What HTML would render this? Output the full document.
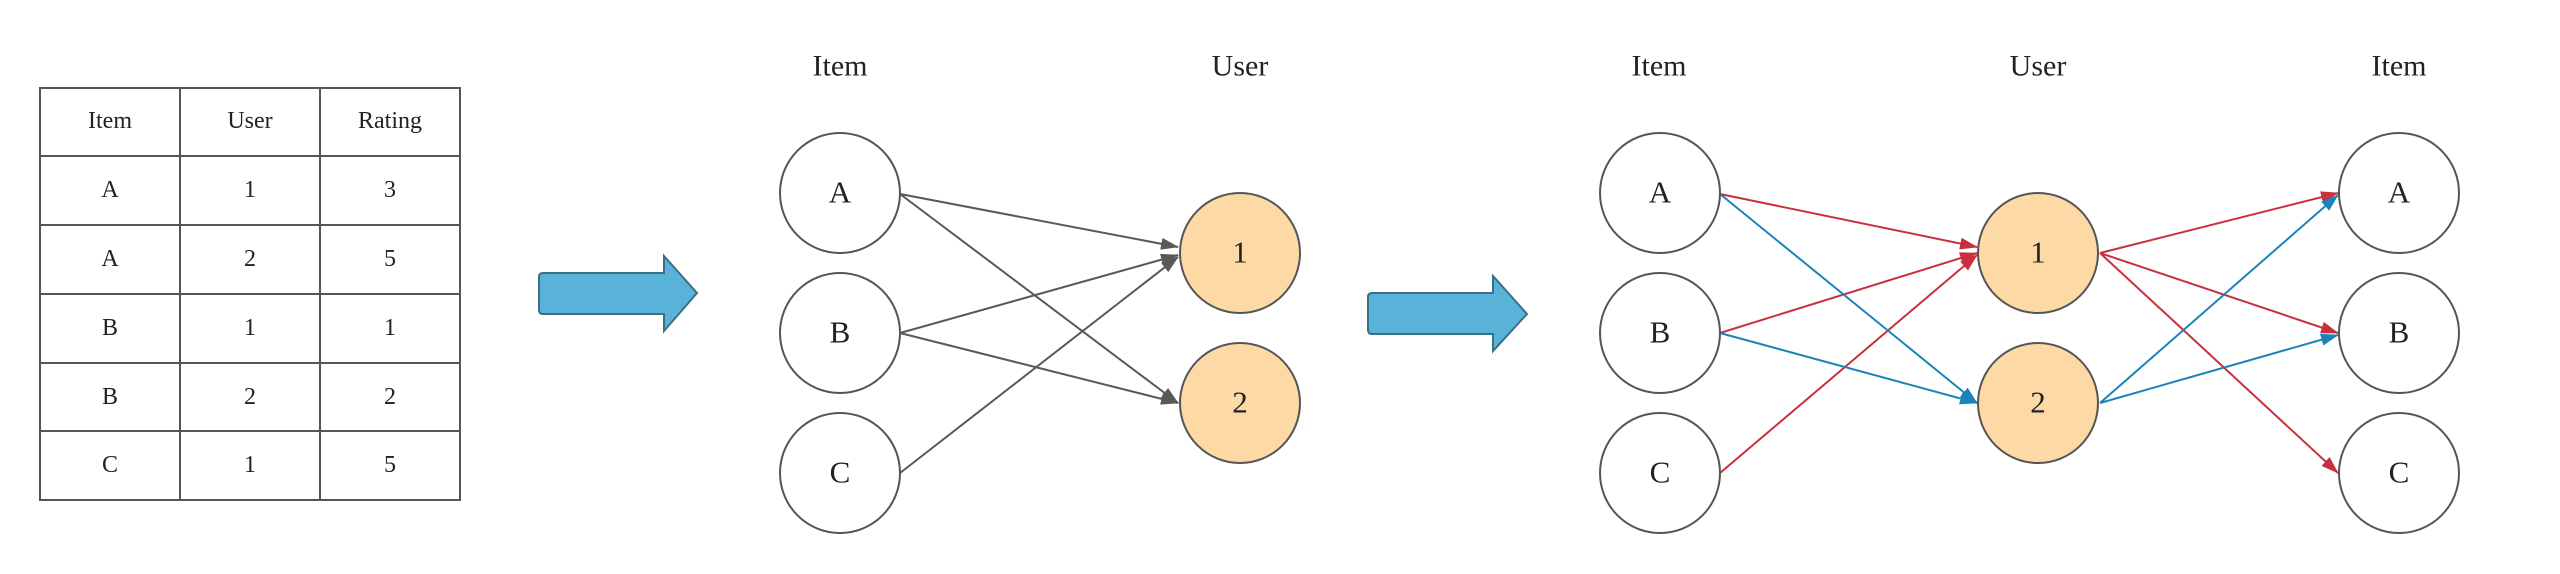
<!DOCTYPE html>
<html><head><meta charset="utf-8"><style>
html,body{margin:0;padding:0;background:#fff;}
svg{display:block;}
text{font-family:"Liberation Serif",serif;fill:#222;text-anchor:middle;dominant-baseline:central;}
</style></head><body>
<svg width="2560" height="574" viewBox="0 0 2560 574" xmlns="http://www.w3.org/2000/svg">
<defs>
<marker id="ag" markerWidth="18" markerHeight="12" refX="17" refY="6" orient="auto" markerUnits="userSpaceOnUse" viewBox="0 0 18 12"><path d="M0,0 L18,6 L0,12 z" fill="#595959"/></marker>
<marker id="ar" markerWidth="18" markerHeight="12" refX="17" refY="6" orient="auto" markerUnits="userSpaceOnUse" viewBox="0 0 18 12"><path d="M0,0 L18,6 L0,12 z" fill="#c9303c"/></marker>
<marker id="ab" markerWidth="18" markerHeight="12" refX="17" refY="6" orient="auto" markerUnits="userSpaceOnUse" viewBox="0 0 18 12"><path d="M0,0 L18,6 L0,12 z" fill="#1b83b9"/></marker>
</defs>
<g stroke="#555" stroke-width="2" fill="none">
<rect x="40" y="88" width="420" height="412"/>
<line x1="180" y1="88" x2="180" y2="500"/><line x1="320" y1="88" x2="320" y2="500"/>
<line x1="40" y1="156" x2="460" y2="156"/><line x1="40" y1="225" x2="460" y2="225"/>
<line x1="40" y1="294" x2="460" y2="294"/><line x1="40" y1="363" x2="460" y2="363"/>
<line x1="40" y1="431" x2="460" y2="431"/>
</g>
<g font-size="24">
<text x="110" y="121">Item</text><text x="250" y="121">User</text><text x="390" y="121">Rating</text>
<text x="110" y="190">A</text><text x="250" y="190">1</text><text x="390" y="190">3</text>
<text x="110" y="259">A</text><text x="250" y="259">2</text><text x="390" y="259">5</text>
<text x="110" y="328">B</text><text x="250" y="328">1</text><text x="390" y="328">1</text>
<text x="110" y="397">B</text><text x="250" y="397">2</text><text x="390" y="397">2</text>
<text x="110" y="465">C</text><text x="250" y="465">1</text><text x="390" y="465">5</text>
</g>
<path d="M543,273 L664,273 L664,256 L697,293 L664,331 L664,314 L543,314 Q539,314 539,310 L539,277 Q539,273 543,273 z" fill="#59b3d8" stroke="#3a6f88" stroke-width="2"/>
<path d="M1372,293 L1493,293 L1493,276 L1527,314 L1493,351 L1493,334 L1372,334 Q1368,334 1368,330 L1368,297 Q1368,293 1372,293 z" fill="#59b3d8" stroke="#3a6f88" stroke-width="2"/>
<g stroke="#595959" stroke-width="2" marker-end="url(#ag)">
<line x1="900" y1="194" x2="1178" y2="247"/>
<line x1="900" y1="194" x2="1178" y2="403"/>
<line x1="900" y1="333" x2="1178" y2="255"/>
<line x1="900" y1="333" x2="1178" y2="403"/>
<line x1="900" y1="473" x2="1178" y2="257"/>
</g>
<g stroke-width="2">
<line x1="1720" y1="194" x2="1977" y2="247" stroke="#c9303c" marker-end="url(#ar)"/>
<line x1="1720" y1="333" x2="1977" y2="253" stroke="#c9303c" marker-end="url(#ar)"/>
<line x1="1720" y1="473" x2="1977" y2="255" stroke="#c9303c" marker-end="url(#ar)"/>
<line x1="1720" y1="194" x2="1977" y2="403" stroke="#1b83b9" marker-end="url(#ab)"/>
<line x1="1720" y1="333" x2="1977" y2="403" stroke="#1b83b9" marker-end="url(#ab)"/>
<line x1="2100" y1="253" x2="2338" y2="193" stroke="#c9303c" marker-end="url(#ar)"/>
<line x1="2100" y1="253" x2="2338" y2="333" stroke="#c9303c" marker-end="url(#ar)"/>
<line x1="2100" y1="253" x2="2338" y2="473" stroke="#c9303c" marker-end="url(#ar)"/>
<line x1="2100" y1="403" x2="2338" y2="195" stroke="#1b83b9" marker-end="url(#ab)"/>
<line x1="2100" y1="403" x2="2338" y2="335" stroke="#1b83b9" marker-end="url(#ab)"/>
</g>
<g stroke="#555" stroke-width="2">
<circle cx="840" cy="193" r="60" fill="#fff"/><circle cx="840" cy="333" r="60" fill="#fff"/><circle cx="840" cy="473" r="60" fill="#fff"/>
<circle cx="1240" cy="253" r="60" fill="#fdd9a6"/><circle cx="1240" cy="403" r="60" fill="#fdd9a6"/>
<circle cx="1660" cy="193" r="60" fill="#fff"/><circle cx="1660" cy="333" r="60" fill="#fff"/><circle cx="1660" cy="473" r="60" fill="#fff"/>
<circle cx="2038" cy="253" r="60" fill="#fdd9a6"/><circle cx="2038" cy="403" r="60" fill="#fdd9a6"/>
<circle cx="2399" cy="193" r="60" fill="#fff"/><circle cx="2399" cy="333" r="60" fill="#fff"/><circle cx="2399" cy="473" r="60" fill="#fff"/>
</g>
<g font-size="31">
<text x="840" y="192">A</text><text x="840" y="332">B</text><text x="840" y="472">C</text>
<text x="1240" y="252">1</text><text x="1240" y="402">2</text>
<text x="1660" y="192">A</text><text x="1660" y="332">B</text><text x="1660" y="472">C</text>
<text x="2038" y="252">1</text><text x="2038" y="402">2</text>
<text x="2399" y="192">A</text><text x="2399" y="332">B</text><text x="2399" y="472">C</text>
</g>
<g font-size="30">
<text x="840" y="66">Item</text><text x="1240" y="66">User</text>
<text x="1659" y="66">Item</text><text x="2038" y="66">User</text><text x="2399" y="66">Item</text>
</g>
</svg>
</body></html>
